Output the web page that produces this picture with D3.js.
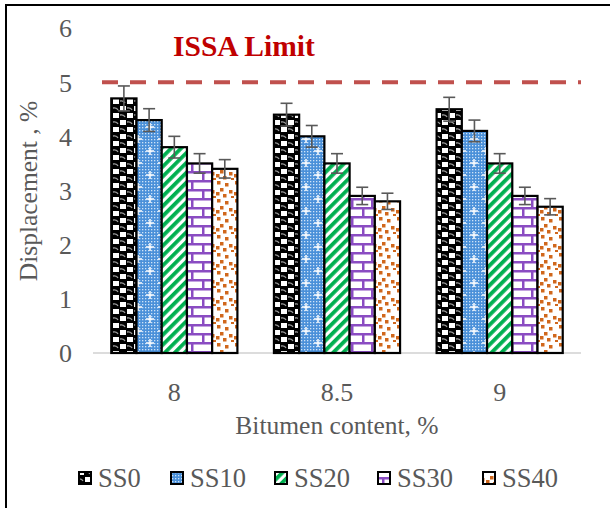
<!DOCTYPE html>
<html><head><meta charset="utf-8">
<script src="https://cdn.jsdelivr.net/npm/d3@7"></script>
<style>html,body{margin:0;padding:0;background:#fff}svg{display:block}text{font-family:'Liberation Serif','Times New Roman',serif}</style>
</head><body><svg id="c" width="610" height="508"></svg>
<script>
// ---- data ----
const categories = ["8", "8.5", "9"];
const seriesNames = ["SS0", "SS10", "SS20", "SS30", "SS40"];
const ss0  = [4.7, 4.4, 4.5];
const ss10 = [4.3, 4.0, 4.1];
const ss20 = [3.8, 3.5, 3.5];
const ss30 = [3.5, 2.9, 2.9];
const ss40 = [3.4, 2.8, 2.7];
const err0  = [0.23, 0.21, 0.22];
const err10 = [0.21, 0.20, 0.20];
const err20 = [0.20, 0.18, 0.18];
const err30 = [0.18, 0.16, 0.16];
const err40 = [0.17, 0.15, 0.15];
const yTicks = [0, 1, 2, 3, 4, 5, 6];
const limitValue = 5;
const limitLabel = "ISSA Limit";
const xTitle = "Bitumen content, %";
const yTitle = "Displacement , %";

const seriesValues = [ss0, ss10, ss20, ss30, ss40];
const seriesErrors = [err0, err10, err20, err30, err40];

const svg = d3.select("#c");
const font = "'Liberation Serif','Times New Roman',serif";
const gray = "#595959";

// ---- patterns ----
const defs = svg.append("defs");
// SS0 sphere-like
{
  const p = defs.append("pattern").attr("id","p0").attr("patternUnits","userSpaceOnUse").attr("width",14).attr("height",14);
  p.append("rect").attr("width",14).attr("height",14).attr("fill","#000");
  p.append("rect").attr("x",1).attr("y",1).attr("width",6).attr("height",5).attr("fill","#fff");
  p.append("rect").attr("x",8).attr("y",8).attr("width",6).attr("height",5).attr("fill","#fff");
  p.append("path").attr("d","M8,3 a4,3 0 0 1 5,2").attr("stroke","#999").attr("stroke-width",1.3).attr("fill","none");
  p.append("path").attr("d","M1,10 a4,3 0 0 1 5,2").attr("stroke","#999").attr("stroke-width",1.3).attr("fill","none");
}
// SS10 dotted blue
{
  const p = defs.append("pattern").attr("id","p1").attr("patternUnits","userSpaceOnUse").attr("width",24).attr("height",24);
  p.append("rect").attr("width",24).attr("height",24).attr("fill","#4a90d9");
  for (let i = 0; i < 8; i++) for (let j = 0; j < 8; j++) {
    p.append("rect").attr("x",i*3+1).attr("y",j*3+1).attr("width",1.3).attr("height",1.3).attr("fill","#cfe3f7");
  }
  p.append("path").attr("d","M6,3 L6,11 M2,7 L10,7").attr("stroke","#fff").attr("stroke-width",1.5);
  p.append("path").attr("d","M18,15 L18,23 M14,19 L22,19").attr("stroke","#fff").attr("stroke-width",1.5);
}
// SS20 green wide diagonal
{
  const p = defs.append("pattern").attr("id","p2").attr("patternUnits","userSpaceOnUse").attr("width",7).attr("height",7).attr("patternTransform","rotate(45)");
  p.append("rect").attr("width",7).attr("height",7).attr("fill","#fff");
  p.append("rect").attr("width",3.8).attr("height",7).attr("fill","#00b050");
}
// SS30 purple bricks
{
  const p = defs.append("pattern").attr("id","p3").attr("patternUnits","userSpaceOnUse").attr("width",20).attr("height",18).attr("x",2).attr("y",0);
  p.append("rect").attr("width",20).attr("height",18).attr("fill","#fff");
  const c = "#8a4cc2";
  p.append("rect").attr("x",0).attr("y",0).attr("width",20).attr("height",2.5).attr("fill",c);
  p.append("rect").attr("x",0).attr("y",9).attr("width",20).attr("height",2.5).attr("fill",c);
  p.append("rect").attr("x",9).attr("y",0).attr("width",2.5).attr("height",9).attr("fill",c);
  p.append("rect").attr("x",0).attr("y",9).attr("width",2.5).attr("height",9).attr("fill",c);
}
// SS40 orange confetti
{
  const p = defs.append("pattern").attr("id","p4").attr("patternUnits","userSpaceOnUse").attr("width",18).attr("height",18);
  p.append("rect").attr("width",18).attr("height",18).attr("fill","#fff");
  const c = "#d0671c";
  [[1,1],[9,3],[4,8],[13,10],[7,14],[15,16],[0,12]].forEach(([x,y]) =>
    p.append("rect").attr("x",x).attr("y",y).attr("width",3.5).attr("height",3.5).attr("fill",c));
}
const patternIds = ["p0","p1","p2","p3","p4"];

const shadow = defs.append("filter").attr("id","sh").attr("x","-5%").attr("y","-200%").attr("width","110%").attr("height","500%");
shadow.append("feGaussianBlur").attr("stdDeviation",2.5);

// ---- frame ----
svg.append("rect").attr("x",6).attr("y",5).attr("width",620).attr("height",520)
  .attr("fill","none").attr("stroke","#000").attr("stroke-width",2);

// ---- scales ----
const x0 = d3.scaleBand().domain(categories).range([93, 581]).paddingInner(0.2246).paddingOuter(0.1123);
const x1 = d3.scaleBand().domain(seriesNames).range([0, x0.bandwidth()]);
const y = d3.scaleLinear().domain([0, 6]).range([353, 28]);

// ---- y axis labels ----
const yAxis = d3.axisLeft(y).tickValues(yTicks).tickFormat(d3.format("d")).tickSize(0).tickPadding(0);
const gy = svg.append("g").attr("transform","translate(72,0)").call(yAxis).attr("font-family",null);
gy.select(".domain").remove();
gy.selectAll("text").style("font-family",font).attr("font-size",26).attr("fill",gray).attr("dy","0.34em");

// ---- baseline ----
svg.append("line").attr("x1",93).attr("x2",581).attr("y1",y(0)).attr("y2",y(0))
  .attr("stroke","#d0d0d0").attr("stroke-width",1.5);

// ---- x axis labels ----
const xAxis = d3.axisBottom(x0).tickSize(0).tickPadding(0);
const gx = svg.append("g").attr("transform","translate(0,382)").call(xAxis).attr("font-family",null);
gx.select(".domain").remove();
gx.selectAll("text").style("font-family",font).attr("font-size",26).attr("fill",gray).attr("dy","0.72em");

// ---- bars ----
seriesNames.forEach((s, si) => {
  const g = svg.append("g");
  g.selectAll("rect").data(categories).join("rect")
    .attr("x", c => x0(c) + x1(s))
    .attr("y", (c, i) => y(seriesValues[si][i]))
    .attr("width", x1.bandwidth())
    .attr("height", (c, i) => y(0) - y(seriesValues[si][i]))
    .attr("fill", `url(#${patternIds[si]})`)
    .attr("stroke", "#000").attr("stroke-width", 2.2);
});

// ---- error bars ----
seriesNames.forEach((s, si) => {
  categories.forEach((c, i) => {
    const cx = x0(c) + x1(s) + x1.bandwidth() / 2;
    const v = seriesValues[si][i], e = seriesErrors[si][i];
    const g = svg.append("g").attr("stroke", gray).attr("stroke-width", 1.6);
    g.append("line").attr("x1",cx).attr("x2",cx).attr("y1",y(v+e)).attr("y2",y(v-e));
    g.append("line").attr("x1",cx-6).attr("x2",cx+6).attr("y1",y(v+e)).attr("y2",y(v+e));
    g.append("line").attr("x1",cx-6).attr("x2",cx+6).attr("y1",y(v-e)).attr("y2",y(v-e));
  });
});

// ---- limit line ----
svg.append("line").attr("x1",102).attr("x2",581).attr("y1",y(limitValue)+3).attr("y2",y(limitValue)+3)
  .attr("stroke","#999").attr("stroke-width",4).attr("stroke-dasharray","16,12").attr("opacity",0.6).attr("filter","url(#sh)");
svg.append("line").attr("x1",102).attr("x2",581).attr("y1",y(limitValue)).attr("y2",y(limitValue))
  .attr("stroke","#c0504d").attr("stroke-width",4).attr("stroke-dasharray","16,12");
svg.append("text").attr("x",173).attr("y",56).text(limitLabel)
  .style("font-family",font).attr("font-size",29.5).attr("font-weight","bold").attr("fill","#c00000");

// ---- axis titles ----
svg.append("text").attr("x",337).attr("y",434).attr("text-anchor","middle").text(xTitle)
  .style("font-family",font).attr("font-size",25.5).attr("fill",gray);
svg.append("text").attr("transform","translate(37,191) rotate(-90)").attr("text-anchor","middle").text(yTitle)
  .style("font-family",font).attr("font-size",25.5).attr("fill",gray);

// ---- legend ----
const legX = [79, 171, 275, 378, 483];
const lg = svg.append("g");
seriesNames.forEach((s, si) => {
  lg.append("rect").attr("x",legX[si]).attr("y",472).attr("width",12).attr("height",12)
    .attr("fill",`url(#${patternIds[si]})`).attr("stroke","#000").attr("stroke-width",2);
  lg.append("text").attr("x",legX[si]+19).attr("y",487).text(s)
    .style("font-family",font).attr("font-size",26.5).attr("fill",gray);
});
</script></body></html>
